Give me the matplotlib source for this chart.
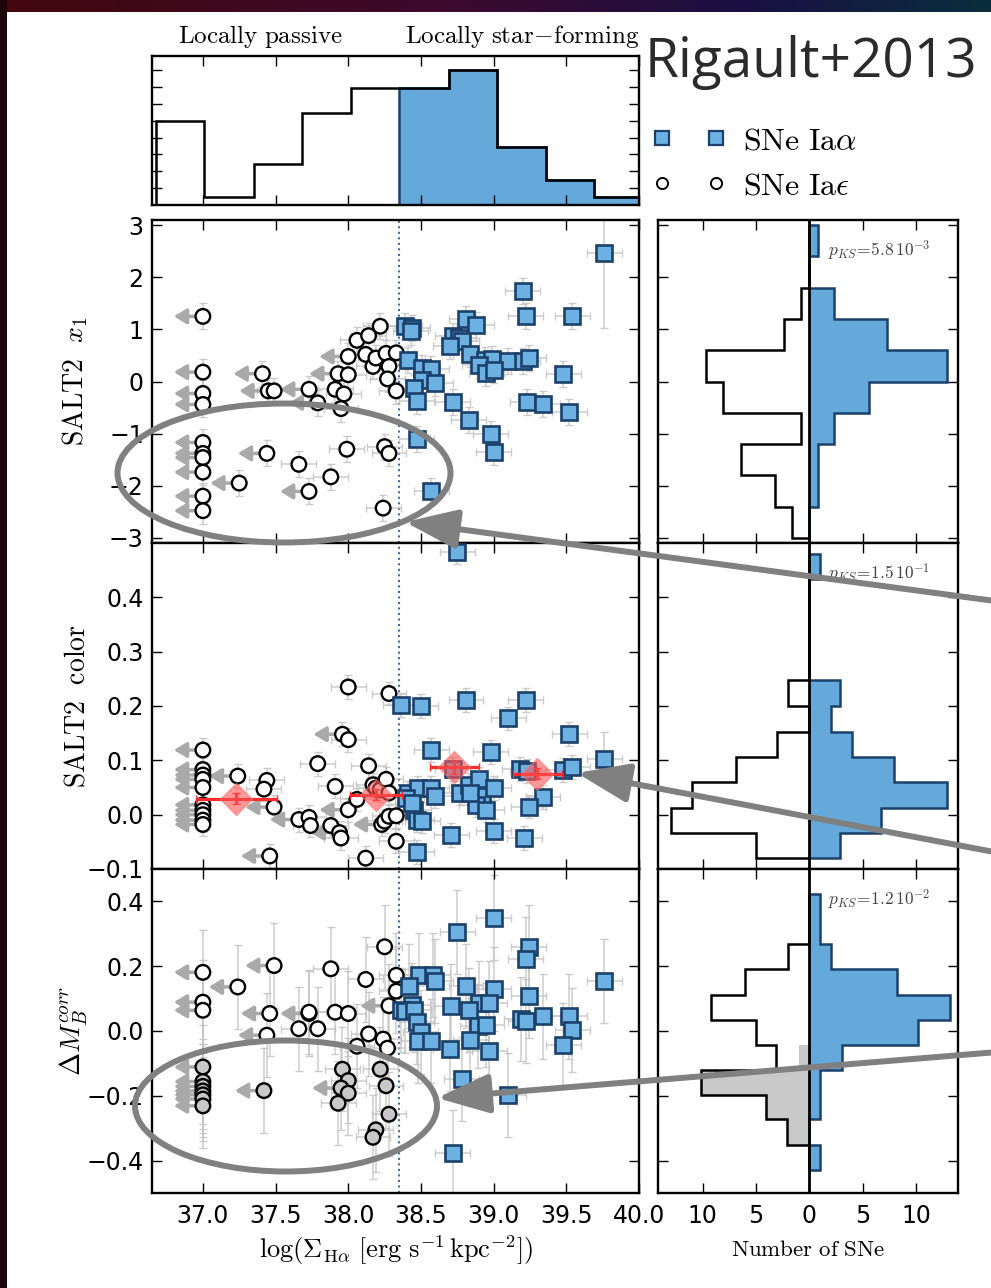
import numpy as np
import matplotlib
matplotlib.use("Agg")
import matplotlib.pyplot as plt
from matplotlib.lines import Line2D
from matplotlib.patches import Ellipse

plt.rcParams["mathtext.fontset"] = "cm"
plt.rcParams["font.family"] = ["DejaVu Sans"]

# ---------------------------------------------------------------- data
# local H-alpha surface brightness histogram (top panel)
sfr_edges = [36.68, 37.01, 37.35, 37.68, 38.02, 38.35, 38.69, 39.02, 39.36, 39.69, 40.03]
sfr_counts = [10.0, 0.9, 4.9, 10.9, 13.9, 13.9, 16.0, 6.9, 3.0, 0.9]
SPLIT = 38.35

# SALT2 x1 : locally passive (Ia-epsilon), limit flag = upper limit in Sigma_Halpha
x1_eps_x = [37.00, 37.00, 37.00, 37.00, 37.00, 37.00, 37.00, 37.00, 37.00, 37.00,
            37.41, 37.45, 37.49, 37.73, 37.79, 37.91, 37.93, 37.97, 37.95, 38.00,
            38.00, 38.06, 38.12, 38.14, 38.17, 38.19, 38.22, 38.26, 38.28, 38.27,
            38.33, 38.33, 37.44, 37.66, 37.25, 37.73, 37.88, 37.99, 38.25, 38.28, 38.24]
x1_eps_y = [1.25, 0.18, -0.23, -0.44, -1.17, -1.38, -1.46, -1.74, -2.20, -2.48,
            0.15, -0.18, -0.18, -0.15, -0.41, -0.15, 0.15, -0.24, -0.52, 0.48,
            0.13, 0.79, 0.52, 0.88, 0.29, 0.45, 1.06, 0.54, 0.29, 0.05,
            -0.18, 0.55, -1.38, -1.59, -1.95, -2.11, -1.83, -1.30, -1.25, -1.38, -2.43]
x1_eps_lim = [1, 1, 1, 1, 1, 1, 1, 1, 1, 1,
              1, 1, 0, 1, 1, 0, 1, 0, 0, 1,
              0, 0, 0, 0, 0, 0, 0, 0, 0, 0,
              0, 0, 1, 0, 1, 1, 0, 0, 0, 0, 0]
# SALT2 x1 : locally star-forming (Ia-alpha)
x1_alp_x = [39.76, 39.20, 39.22, 39.54, 38.81, 38.88, 38.39, 38.44, 38.43, 38.72,
            38.76, 38.78, 38.70, 38.84, 38.41, 38.94, 38.99, 39.10, 39.20, 39.24,
            38.51, 38.57, 38.90, 38.95, 39.00, 39.48, 38.51, 38.60, 38.45, 38.47,
            38.72, 39.23, 39.34, 39.52, 38.83, 38.47, 38.98, 39.00, 38.57]
x1_alp_y = [2.46, 1.73, 1.26, 1.25, 1.20, 1.09, 1.06, 1.03, 0.96, 0.87,
            0.83, 0.77, 0.68, 0.52, 0.42, 0.42, 0.43, 0.39, 0.39, 0.45,
            0.26, 0.24, 0.32, 0.17, 0.23, 0.15, 0.03, -0.03, -0.12, -0.38,
            -0.39, -0.39, -0.44, -0.58, -0.73, -1.10, -1.01, -1.35, -2.11]

# SALT2 color
c_eps_x = [37.00, 37.00, 37.00, 37.00, 37.00, 37.00, 37.00, 37.00, 37.00, 37.00,
           37.24, 37.44, 37.42, 37.49, 37.46, 37.66, 37.73, 37.74, 37.79, 37.88,
           37.91, 37.94, 37.95, 38.00, 37.96, 38.00, 38.00, 38.06, 38.12, 38.14,
           38.17, 38.19, 38.22, 38.26, 38.28, 38.28, 38.23, 38.25, 38.28, 38.33, 38.33]
c_eps_y = [0.119, 0.083, 0.073, 0.065, 0.050, 0.018, 0.008, 0.000, -0.010, -0.018,
           0.071, 0.063, 0.047, 0.014, -0.076, -0.009, -0.005, -0.020, 0.094, -0.020,
           0.052, -0.033, -0.043, 0.235, 0.148, 0.138, 0.009, 0.028, -0.080, 0.090,
           0.055, 0.049, 0.046, 0.065, 0.040, 0.223, -0.018, -0.012, -0.003, -0.002, -0.049]
c_eps_lim = [1, 1, 1, 1, 1, 1, 1, 1, 1, 1,
             1, 0, 0, 1, 1, 1, 0, 0, 0, 0,
             0, 1, 0, 0, 1, 0, 1, 0, 0, 0,
             0, 0, 0, 0, 0, 0, 1, 0, 0, 0, 0]
c_alp_x = [38.75, 38.36, 38.50, 38.81, 39.22, 39.10, 39.52, 38.57, 38.98, 39.76,
           38.72, 39.18, 39.23, 39.48, 39.54, 38.41, 38.48, 38.57, 38.60, 38.77,
           38.83, 38.90, 38.92, 38.88, 38.95, 39.00, 39.34, 39.24, 38.45, 38.47,
           38.51, 39.00, 38.71, 39.21, 38.47, 38.40, 38.44, 38.84]
c_alp_y = [0.483, 0.202, 0.200, 0.211, 0.211, 0.177, 0.148, 0.119, 0.116, 0.103,
           0.084, 0.084, 0.080, 0.083, 0.088, 0.040, 0.049, 0.049, 0.035, 0.040,
           0.055, 0.065, 0.034, 0.018, 0.009, 0.049, 0.033, 0.015, 0.009, -0.009,
           -0.012, -0.030, -0.037, -0.043, -0.068, 0.031, 0.022, 0.040]
# binned means of color
c_mean_x = [37.23, 38.19, 38.73, 39.30]
c_mean_y = [0.029, 0.037, 0.087, 0.075]
c_mean_xerr = [0.28, 0.18, 0.17, 0.17]
c_mean_yerr = [0.010, 0.010, 0.012, 0.010]

# Hubble residuals
m_eps_x = [37.00, 37.00, 37.00, 37.00, 37.00, 37.00, 37.00, 37.00, 37.00, 37.00,
           37.24, 37.49, 37.46, 37.44, 37.42, 37.66, 37.73, 37.73, 37.79, 37.88,
           37.91, 38.00, 38.06, 38.12, 38.14, 38.24, 38.27, 38.25, 38.33, 38.33,
           38.28, 37.96, 38.00, 37.95, 38.00, 37.93, 38.22, 38.26, 38.28, 38.19, 38.17]
m_eps_y = [0.181, 0.089, 0.064, -0.111, -0.156, -0.171, -0.185, -0.197, -0.210, -0.231,
           0.136, 0.202, 0.054, -0.013, -0.184, 0.007, 0.054, 0.058, 0.007, 0.192,
           0.058, 0.054, -0.047, 0.159, -0.009, -0.025, -0.053, 0.260, 0.172, 0.123,
           0.078, -0.118, -0.153, -0.176, -0.192, -0.223, -0.118, -0.169, -0.257, -0.305, -0.328]
m_eps_lim = [1, 1, 1, 1, 1, 1, 1, 1, 1, 1,
             1, 1, 1, 1, 1, 0, 1, 0, 0, 0,
             0, 0, 0, 0, 0, 0, 0, 0, 0, 0,
             1, 0, 0, 1, 0, 0, 0, 0, 0, 0, 0]
m_alp_x = [39.00, 38.75, 39.24, 39.22, 38.49, 38.58, 38.60, 39.76, 38.42, 38.81,
           39.00, 39.24, 38.44, 38.71, 38.90, 38.97, 38.36, 38.39, 38.45, 38.83,
           39.19, 39.22, 39.34, 39.52, 38.47, 38.89, 38.95, 39.54, 38.50, 38.48,
           38.57, 38.84, 38.70, 39.48, 38.97, 38.78, 39.10, 38.72]
m_alp_y = [0.350, 0.305, 0.260, 0.223, 0.174, 0.174, 0.154, 0.154, 0.140, 0.138,
           0.130, 0.109, 0.081, 0.076, 0.085, 0.087, 0.064, 0.061, 0.064, 0.064,
           0.037, 0.030, 0.045, 0.045, 0.027, 0.016, 0.018, 0.004, -0.004, -0.032,
           -0.032, -0.029, -0.056, -0.044, -0.063, -0.147, -0.197, -0.375]
M_FAINT = -0.10   # passive SNe below this residual are shaded grey

# side histograms (bins listed bottom to top)
x1_edges = [-3.0, -2.4, -1.8, -1.2, -0.6, 0.0, 0.6, 1.2, 1.8, 2.4, 3.0]
x1_hist_alp = [0.0, 0.85, 0.85, 2.3, 5.6, 12.9, 7.3, 2.3, 0.0, 0.85]
x1_hist_eps = [1.6, 3.2, 6.4, 0.8, 8.1, 9.7, 2.4, 0.8, 0.0, 0.0]
c_edges = [-0.080, -0.033, 0.013, 0.060, 0.107, 0.153, 0.200, 0.247, 0.293,
           0.340, 0.387, 0.433, 0.480]
c_hist_alp = [2.9, 6.7, 12.9, 7.9, 4.0, 2.0, 2.9, 0.0, 0.0, 0.0, 0.0, 1.0]
c_hist_eps = [5.0, 13.0, 11.0, 6.9, 3.0, 0.0, 2.0, 0.0, 0.0, 0.0, 0.0, 0.0]
m_edges = [-0.429, -0.352, -0.272, -0.197, -0.120, -0.042, 0.035, 0.112, 0.192,
           0.267, 0.346, 0.424]
m_hist_alp = [1.0, 0.0, 1.0, 1.0, 3.1, 10.2, 13.2, 8.2, 2.0, 1.0, 1.0]
m_hist_eps = [0.0, 2.1, 4.1, 10.2, 3.1, 5.0, 9.2, 6.0, 2.0, 0.0, 0.0]
m_hist_faint = [0.0, 2.1, 4.1, 10.2, 1.0, 0.0, 0.0, 0.0, 0.0, 0.0, 0.0]

pks_labels = [r"$p_{KS}\!=\!5.8\,10^{-3}$", r"$p_{KS}\!=\!1.5\,10^{-1}$",
              r"$p_{KS}\!=\!1.2\,10^{-2}$"]

# ---------------------------------------------------------------- style
BLUE = "#65a9da"
SQ_FACE = "#6db0e2"
NAVY = "#1b416b"
ERR_C = "#c4c4c4"
LIM_C = "#a9a9a9"
GREY_FILL = "#c9c9c9"
NOTE_C = "#808080"
X_ERR = 0.12
LIM_LEN = 0.20
TICK_FS = 17
LABEL_FS = 20

W, H = 991, 1288
fig = plt.figure(figsize=(W / 100, H / 100), dpi=100)


def box(x0, y0, x1, y1):
    return [x0 / W, 1 - y1 / H, (x1 - x0) / W, (y1 - y0) / H]


ax_top = fig.add_axes(box(152, 56, 639, 205))
axes_main = [fig.add_axes(box(152, 220, 639, 543)),
             fig.add_axes(box(152, 543, 639, 869)),
             fig.add_axes(box(152, 869, 639, 1193))]
axes_side = [fig.add_axes(box(658, 220, 958, 543)),
             fig.add_axes(box(658, 543, 958, 869)),
             fig.add_axes(box(658, 869, 958, 1193))]


def frame(ax):
    ax.tick_params(direction="in", which="both", top=True, right=True,
                   length=7, width=1.0, labelsize=TICK_FS)
    ax.tick_params(axis="x", pad=8)
    ax.tick_params(axis="y", pad=6)
    for s in ax.spines.values():
        s.set_linewidth(1.7)


XTICKS = [37.0, 37.5, 38.0, 38.5, 39.0, 39.5, 40.0]
XLIM = (36.65, 40.0)

# top histogram
sfr_edges_a = np.asarray(sfr_edges)
sfr_counts_a = np.asarray(sfr_counts)
k = int(np.argmin(np.abs(sfr_edges_a - SPLIT)))
ax_top.stairs(sfr_counts_a[k:], sfr_edges_a[k:], baseline=0, fill=True,
              color=BLUE, lw=0, zorder=1)
ax_top.stairs(sfr_counts_a[k:], sfr_edges_a[k:], baseline=0, fill=False,
              color=NAVY, lw=1.8, zorder=2)
ax_top.stairs(sfr_counts_a, sfr_edges_a, baseline=0, fill=False,
              color="black", lw=1.8, zorder=3)
ax_top.set_xlim(*XLIM)
ax_top.set_ylim(0, 17.7)
ax_top.set_xticks(XTICKS)
ax_top.set_yticks([2, 4, 6, 8, 10, 12, 14, 16])
frame(ax_top)
ax_top.tick_params(labelbottom=False, labelleft=False)


def scatter_panel(ax, ex, ey, elim, ax_, ay_, eyerr, ayerr, faint=None):
    ex, ey = np.asarray(ex), np.asarray(ey)
    lim = np.asarray(elim, bool)
    ax_, ay_ = np.asarray(ax_), np.asarray(ay_)
    ekw = dict(fmt="none", ecolor=ERR_C, elinewidth=1.1, capsize=3, alpha=0.85, zorder=1)
    ax.errorbar(ex[~lim], ey[~lim], xerr=X_ERR, yerr=eyerr, **ekw)
    ax.errorbar(ex[lim], ey[lim], yerr=eyerr, **ekw)
    ax.errorbar(ax_, ay_, xerr=X_ERR, yerr=ayerr, **ekw)
    for x, y in zip(ex[lim], ey[lim]):
        ax.annotate("", xy=(x - LIM_LEN, y), xytext=(x, y),
                    arrowprops=dict(arrowstyle="-|>,head_length=0.5,head_width=0.3",
                                    color=LIM_C, lw=2.5, shrinkA=0, shrinkB=0,
                                    mutation_scale=15), zorder=2)
    face = np.where(ey < faint, GREY_FILL, "white") if faint is not None else ["white"] * len(ex)
    ax.scatter(ex, ey, s=10.5 ** 2, c=list(face), edgecolors="black",
               linewidths=1.7, marker="o", zorder=3)
    ax.plot(ax_, ay_, ls="none", marker="s", ms=11, mfc=SQ_FACE, mec=NAVY,
            mew=1.9, zorder=4)
    ax.axvline(SPLIT, color="#3f6aa8", ls=":", lw=1.5, zorder=0)
    ax.set_xlim(*XLIM)
    ax.set_xticks(XTICKS)
    frame(ax)


a1, a2, a3 = axes_main
x1_alp_err = np.full(len(x1_alp_x), 0.25)
x1_alp_err[0] = 1.43
scatter_panel(a1, x1_eps_x, x1_eps_y, x1_eps_lim, x1_alp_x, x1_alp_y, 0.25, x1_alp_err)
a1.set_ylim(-3.1, 3.1)
a1.set_yticks([-3, -2, -1, 0, 1, 2, 3])

c_alp_err = np.full(len(c_alp_x), 0.022)
c_alp_err[9] = 0.05
scatter_panel(a2, c_eps_x, c_eps_y, c_eps_lim, c_alp_x, c_alp_y, 0.022, c_alp_err)
a2.errorbar(c_mean_x, c_mean_y, xerr=c_mean_xerr, yerr=c_mean_yerr, fmt="D",
            ms=16, mfc=(1.0, 0.33, 0.33, 0.6), mec=(1.0, 0.45, 0.45, 0.6),
            ecolor="#ff2a2a", elinewidth=2.3, capsize=3, capthick=1, zorder=6)
a2.set_ylim(-0.1, 0.5)
a2.set_yticks([-0.1, 0.0, 0.1, 0.2, 0.3, 0.4])

scatter_panel(a3, m_eps_x, m_eps_y, m_eps_lim, m_alp_x, m_alp_y, 0.13, 0.13, faint=M_FAINT)
a3.set_ylim(-0.5, 0.5)
a3.set_yticks([-0.4, -0.2, 0.0, 0.2, 0.4])

a1.tick_params(labelbottom=False)
a2.tick_params(labelbottom=False)
a3.set_xticklabels(["%.1f" % t for t in XTICKS])

a1.set_ylabel(r"$\mathrm{SALT2}\ \ x_1$", fontsize=LABEL_FS)
a2.set_ylabel(r"$\mathrm{SALT2}\ \ \mathrm{color}$", fontsize=LABEL_FS)
a3.set_ylabel(r"$\Delta M_B^{corr}$", fontsize=LABEL_FS)
for a in axes_main:
    a.yaxis.set_label_coords(-0.127, 0.5)
a3.set_xlabel(r"$\log(\Sigma_{\mathrm{H}\alpha}\ [\mathrm{erg\ s^{-1}\,kpc^{-2}}])$",
              fontsize=LABEL_FS - 1)
a3.xaxis.set_label_coords(0.5, -0.125)


def side_panel(ax, edges, alp, eps, main_ax, pks, faint=None):
    edges = np.asarray(edges)
    if faint is not None:
        ax.stairs(-np.asarray(faint), edges, orientation="horizontal", baseline=0,
                  fill=True, color=GREY_FILL, lw=0, zorder=1)
    ax.stairs(alp, edges, orientation="horizontal", baseline=0, fill=True,
              color=BLUE, lw=0, zorder=1)
    ax.stairs(alp, edges, orientation="horizontal", baseline=0, fill=False,
              color=NAVY, lw=1.8, zorder=2)
    ax.stairs(-np.asarray(eps), edges, orientation="horizontal", baseline=0,
              fill=False, color="black", lw=1.8, zorder=2)
    ax.axvline(0, color="black", lw=2.0, zorder=3)
    ax.set_xlim(-14.2, 13.95)
    ax.set_yticks(main_ax.get_yticks())
    ax.set_ylim(main_ax.get_ylim())
    ax.set_xticks([-10, -5, 0, 5, 10])
    ax.set_xticklabels(["10", "5", "0", "5", "10"])
    frame(ax)
    ax.tick_params(labelleft=False)
    ax.text(0.565, 0.905, pks, transform=ax.transAxes, fontsize=12.5,
            color="#444444", va="center", ha="left", zorder=4)


s1, s2, s3 = axes_side
side_panel(s1, x1_edges, x1_hist_alp, x1_hist_eps, a1, pks_labels[0])
side_panel(s2, c_edges, c_hist_alp, c_hist_eps, a2, pks_labels[1])
side_panel(s3, m_edges, m_hist_alp, m_hist_eps, a3, pks_labels[2], faint=m_hist_faint)
s1.tick_params(labelbottom=False)
s2.tick_params(labelbottom=False)
s3.set_xlabel(r"$\mathrm{Number\ of\ SNe}$", fontsize=16.5)
s3.xaxis.set_label_coords(0.5, -0.14)

# region labels and legend
fig.text(260 / W, 1 - 37 / H, r"$\mathrm{Locally\ passive}$", fontsize=18,
         ha="center", va="center")
fig.text(522 / W, 1 - 37 / H, r"$\mathrm{Locally\ star\!-\!forming}$", fontsize=18,
         ha="center", va="center")
fig.text(645 / W, 1 - 77 / H, "Rigault+2013", fontsize=39.5, family="Open Sans",
         color="#2b2b2b", ha="left", va="baseline")

h_alp = Line2D([], [], ls="none", marker="s", ms=10, mfc=SQ_FACE, mec=NAVY, mew=1.6)
h_eps = Line2D([], [], ls="none", marker="o", ms=8, mfc="white", mec="black", mew=1.4)
fig.legend([h_alp, h_eps], [r"$\mathrm{SNe\ Ia}\alpha$", r"$\mathrm{SNe\ Ia}\epsilon$"],
           loc="upper left", bbox_to_anchor=(652 / W, 1 - 125 / H), numpoints=2,
           frameon=False, fontsize=23, handlelength=2.3, handletextpad=0.55,
           labelspacing=0.45, borderpad=0, borderaxespad=0)

# overlay: slide border and highlight annotations
ov = fig.add_axes([0, 0, 1, 1], zorder=30)
ov.patch.set_alpha(0)
ov.axis("off")
t = np.linspace(0, 1, 400)
anchors = [(0.0, (0.26, 0.03, 0.05)), (0.45, (0.24, 0.04, 0.18)),
           (0.75, (0.10, 0.06, 0.26)), (1.0, (0.04, 0.18, 0.24))]
pos = [a[0] for a in anchors]
top_rgb = np.stack([np.interp(t, pos, [a[1][i] for a in anchors]) for i in range(3)], axis=-1)
ov.imshow(top_rgb[None, :, :], extent=(0, W, 12, 0), aspect="auto", zorder=0)
left_rgb = np.array([[[0.12, 0.02, 0.04]]])
ov.imshow(left_rgb, extent=(0, 7, H, 0), aspect="auto", zorder=0)

ov.add_patch(Ellipse((284, 473), 333, 139, fill=False, lw=4.3, ec=NOTE_C, zorder=2))
ov.add_patch(Ellipse((286, 1106), 302, 131, fill=False, lw=4.3, ec=NOTE_C, zorder=2))
for tip, tail in [((405, 522), (1010, 603)), ((577, 773), (1010, 855)),
                  ((437, 1098), (1010, 1051))]:
    ov.annotate("", xy=tip, xytext=tail, annotation_clip=False,
                arrowprops=dict(arrowstyle="-|>,head_length=1.6,head_width=0.6",
                                mutation_scale=20, lw=4.3, color=NOTE_C,
                                shrinkA=0, shrinkB=0), zorder=3)
ov.set_xlim(0, W)
ov.set_ylim(H, 0)

fig.savefig("out.png", dpi=100)
